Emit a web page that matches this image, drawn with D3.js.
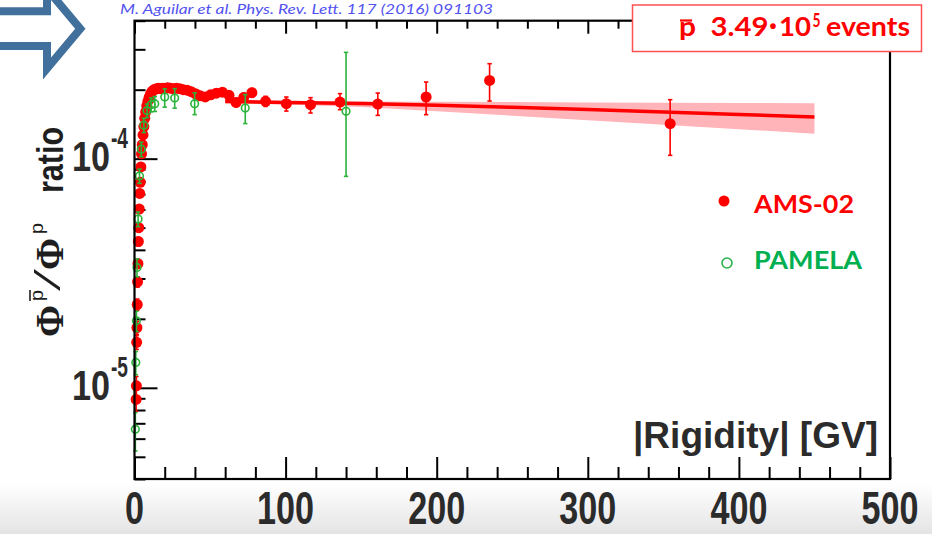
<!DOCTYPE html>
<html>
<head>
<meta charset="utf-8">
<script src="https://cdn.jsdelivr.net/npm/d3@7/dist/d3.min.js"></script>
<style>
  html, body { margin: 0; padding: 0; background: #fff; overflow: hidden; }
  svg { display: block; }
</style>
</head>
<body>
<svg id="chart" width="932" height="534"></svg>
<script>
// ---- AMS-02 antiproton-to-proton flux ratio (57 rigidity bins, GV) ----
const amsRigidity = [1.08, 1.24, 1.42, 1.61, 1.81, 2.03, 2.27, 2.53, 2.82, 3.13, 3.46, 3.83, 4.22, 4.65,
  5.12, 5.63, 6.18, 6.78, 7.42, 8.12, 8.87, 9.68, 10.55, 11.5, 12.5, 13.55, 14.7, 15.95, 17.3, 18.75,
  20.3, 21.95, 23.75, 25.7, 27.75, 29.95, 32.3, 34.8, 37.5, 40.4, 43.5, 46.8, 50.35, 54.15, 58.2, 62.55,
  67.25, 72.3, 77.7, 86.75, 100.5, 116.5, 136, 161, 193, 235, 354.5];
const amsRatio = [8.9e-6, 1.02e-5, 1.58e-5, 1.83e-5, 2.31e-5, 2.9e-5, 3.48e-5, 4.35e-5, 5.0e-5, 6.03e-5, 7.05e-5, 7.88e-5, 9.2e-5, 1.05e-4,
  1.15e-4, 1.27e-4, 1.38e-4, 1.5e-4, 1.6e-4, 1.7e-4, 1.78e-4, 1.85e-4, 1.91e-4, 1.96e-4, 1.99e-4, 2.01e-4, 2.02e-4, 2.03e-4, 2.02e-4, 2.03e-4,
  2.02e-4, 2.04e-4, 2.03e-4, 2.02e-4, 2.03e-4, 2.02e-4, 2.0e-4, 1.99e-4, 1.96e-4, 1.92e-4, 1.88e-4, 1.86e-4, 1.9e-4, 1.93e-4, 1.95e-4, 1.89e-4,
  1.76e-4, 1.85e-4, 1.94e-4, 1.78e-4, 1.738e-4, 1.72e-4, 1.766e-4, 1.73e-4, 1.858e-4, 2.195e-4, 1.421e-4];
const amsErrUp = [1.0e-6, 1.0e-6, 1.1e-6, 1.2e-6, 1.3e-6, 1.5e-6, 1.6e-6, 1.8e-6, 2.0e-6, 2.2e-6, 2.4e-6, 2.6e-6, 2.8e-6, 3.0e-6,
  3.2e-6, 3.4e-6, 3.6e-6, 3.8e-6, 4.0e-6, 4.0e-6, 4.0e-6, 4.0e-6, 4.0e-6, 4.0e-6, 4.0e-6, 4.0e-6, 4.0e-6, 4.0e-6, 4.0e-6, 4.0e-6,
  4.0e-6, 4.0e-6, 4.0e-6, 4.0e-6, 4.2e-6, 4.4e-6, 4.6e-6, 4.8e-6, 5.0e-6, 5.2e-6, 5.5e-6, 5.8e-6, 6.0e-6, 6.3e-6, 6.6e-6, 7.0e-6,
  7.5e-6, 8.0e-6, 8.5e-6, 9.0e-6, 1.2e-5, 1.26e-5, 1.56e-5, 2.03e-5, 3.02e-5, 4.02e-5, 3.88e-5];
const amsErrDown = [1.0e-6, 1.0e-6, 1.1e-6, 1.2e-6, 1.3e-6, 1.5e-6, 1.6e-6, 1.8e-6, 2.0e-6, 2.2e-6, 2.4e-6, 2.6e-6, 2.8e-6, 3.0e-6,
  3.2e-6, 3.4e-6, 3.6e-6, 3.8e-6, 4.0e-6, 4.0e-6, 4.0e-6, 4.0e-6, 4.0e-6, 4.0e-6, 4.0e-6, 4.0e-6, 4.0e-6, 4.0e-6, 4.0e-6, 4.0e-6,
  4.0e-6, 4.0e-6, 4.0e-6, 4.0e-6, 4.2e-6, 4.4e-6, 4.6e-6, 4.8e-6, 5.0e-6, 5.2e-6, 5.5e-6, 5.8e-6, 6.0e-6, 6.3e-6, 6.6e-6, 7.0e-6,
  7.5e-6, 8.0e-6, 8.5e-6, 9.0e-6, 1.25e-5, 1.38e-5, 1.3e-5, 1.85e-5, 3.02e-5, 4.11e-5, 3.87e-5];

// ---- PAMELA ratio ----
const pamRigidity = [0.55, 0.85, 1.25, 1.65, 2.4, 3.3, 4.5, 6.2, 8.3, 11.0, 13.4, 20.0, 26.6, 39.8, 73.3, 140];
const pamRatio = [6.6e-6, 1.29e-5, 1.96e-5, 3.35e-5, 5.45e-5, 8.4e-5, 1.1e-4, 1.4e-4, 1.62e-4, 1.72e-4, 1.737e-4, 1.858e-4, 1.84e-4, 1.737e-4, 1.663e-4, 1.61e-4];
const pamErrUp = [1.2e-6, 1.5e-6, 2.0e-6, 3.0e-6, 4.0e-6, 6.0e-6, 8.0e-6, 1.0e-5, 1.1e-5, 1.2e-5, 1.3e-5, 1.6e-5, 1.8e-5, 2.0e-5, 2.4e-5, 1.30e-4];
const pamErrDown = [1.3e-6, 1.5e-6, 2.0e-6, 3.0e-6, 4.0e-6, 6.0e-6, 8.0e-6, 1.0e-5, 1.1e-5, 1.2e-5, 1.3e-5, 1.8e-5, 1.8e-5, 1.81e-5, 2.4e-5, 7.73e-5];

// ---- fit above 60 GV with its uncertainty band ----
const fitRigidity = [60, 100, 150, 200, 250, 300, 350, 400, 450];
const fitRatio = [1.775e-4, 1.76e-4, 1.74e-4, 1.71e-4, 1.675e-4, 1.64e-4, 1.60e-4, 1.56e-4, 1.52e-4];
const fitLow  = [1.745e-4, 1.725e-4, 1.68e-4, 1.61e-4, 1.54e-4, 1.47e-4, 1.405e-4, 1.345e-4, 1.286e-4];
const fitHigh = [1.81e-4, 1.79e-4, 1.775e-4, 1.77e-4, 1.765e-4, 1.76e-4, 1.755e-4, 1.75e-4, 1.747e-4];

// ---- axes ----
const xTicks = [0, 100, 200, 300, 400, 500];
const xTickLabels = ["0", "100", "200", "300", "400", "500"];
const yTicks = [1e-5, 1e-4];
const yTickExponents = ["-5", "-4"];

const RED = "#ff0000";
const GREEN = "#2bb33a";
const INK = "#2b2b2b";

const svg = d3.select("#chart");
const W = 932, H = 534;
const frame = { left: 134.5, right: 890, top: 20.7, bottom: 479 };

const x = d3.scaleLinear().domain([0, 500]).range([frame.left, frame.right]);
const y = d3.scaleLog().domain([4e-6, 4e-4]).range([frame.bottom, frame.top]);

// soft grey floor behind the axis numbers
const defs = svg.append("defs");
const grad = defs.append("linearGradient").attr("id", "floor").attr("x1", 0).attr("y1", 0).attr("x2", 0).attr("y2", 1);
grad.append("stop").attr("offset", "0%").attr("stop-color", "#ffffff");
grad.append("stop").attr("offset", "100%").attr("stop-color", "#e4e4e4");
svg.append("rect").attr("x", 0).attr("y", 484).attr("width", W).attr("height", H - 484).attr("fill", "url(#floor)");

// ---- minor tick values ----
const xMinor = d3.range(0, 501, 20).filter(v => v % 100 !== 0);
const yMinor = [];
[1e-6, 1e-5, 1e-4].forEach(dec => { for (let k = 2; k <= 9; k++) { const v = k * dec; if (v >= 4e-6 && v <= 4e-4) yMinor.push(v); } });

function tickLayer(axis) {
  const g = svg.append("g").call(axis);
  g.select(".domain").remove();
  g.selectAll("line").attr("stroke", "#000").attr("stroke-width", 2);
  g.selectAll("text").remove();
  return g;
}
tickLayer(d3.axisBottom(x).tickValues(xTicks).tickSize(-22)).attr("transform", `translate(0,${frame.bottom})`);
tickLayer(d3.axisBottom(x).tickValues(xMinor).tickSize(-12)).attr("transform", `translate(0,${frame.bottom})`);
tickLayer(d3.axisTop(x).tickValues(xTicks).tickSize(-13)).attr("transform", `translate(0,${frame.top})`);
tickLayer(d3.axisTop(x).tickValues(xMinor).tickSize(-8)).attr("transform", `translate(0,${frame.top})`);
tickLayer(d3.axisLeft(y).tickValues(yTicks).tickSize(-23)).attr("transform", `translate(${frame.left},0)`);
tickLayer(d3.axisLeft(y).tickValues(yMinor).tickSize(-11)).attr("transform", `translate(${frame.left},0)`);

// ---- fit band and line ----
const fitRows = fitRigidity.map((r, i) => ({ r, v: fitRatio[i], lo: fitLow[i], hi: fitHigh[i] }));
svg.append("path").datum(fitRows)
  .attr("d", d3.area().x(d => x(d.r)).y0(d => y(d.lo)).y1(d => y(d.hi)))
  .attr("fill", "#ffb4ba");
svg.append("path").datum(fitRows)
  .attr("d", d3.line().x(d => x(d.r)).y(d => y(d.v)))
  .attr("fill", "none").attr("stroke", RED).attr("stroke-width", 3.5);

// ---- error bars ----
function errorBars(rs, vs, up, down, color, cap) {
  const g = svg.append("g").attr("stroke", color).attr("stroke-width", 1.6);
  rs.forEach((r, i) => {
    const cx = x(r), y1 = y(vs[i] + up[i]), y0 = y(vs[i] - down[i]);
    g.append("line").attr("x1", cx).attr("x2", cx).attr("y1", y1).attr("y2", y0);
    g.append("line").attr("x1", cx - cap).attr("x2", cx + cap).attr("y1", y1).attr("y2", y1);
    g.append("line").attr("x1", cx - cap).attr("x2", cx + cap).attr("y1", y0).attr("y2", y0);
  });
}

// AMS-02
errorBars(amsRigidity, amsRatio, amsErrUp, amsErrDown, RED, 2.2);
svg.append("g").selectAll("circle").data(amsRigidity).join("circle")
  .attr("cx", d => x(d)).attr("cy", (d, i) => y(amsRatio[i])).attr("r", 5.5).attr("fill", RED);

// PAMELA
errorBars(pamRigidity, pamRatio, pamErrUp, pamErrDown, GREEN, 2.2);
svg.append("g").selectAll("circle").data(pamRigidity).join("circle")
  .attr("cx", d => x(d)).attr("cy", (d, i) => y(pamRatio[i])).attr("r", 3.8)
  .attr("fill", "none").attr("stroke", GREEN).attr("stroke-width", 1.6);

// ---- frame (left, bottom, top, right) ----
svg.append("rect").attr("x", frame.left).attr("y", frame.top)
  .attr("width", frame.right - frame.left).attr("height", frame.bottom - frame.top)
  .attr("fill", "none").attr("stroke", "#000").attr("stroke-width", 2.2);

// ---- tick labels ----
const numFont = "'Liberation Sans', Arial, sans-serif";
svg.append("g").selectAll("text").data(xTicks).join("text")
  .attr("x", d => x(d)).attr("y", 523.5)
  .attr("text-anchor", "middle")
  .attr("font-family", numFont).attr("font-weight", "bold").attr("font-size", 46)
  .attr("fill", INK)
  .attr("textLength", (d, i) => 19 * xTickLabels[i].length).attr("lengthAdjust", "spacingAndGlyphs")
  .text((d, i) => xTickLabels[i]);

const yLab = svg.append("g").attr("font-family", numFont).attr("font-weight", "bold").attr("fill", INK);
yTicks.forEach((v, i) => {
  yLab.append("text").attr("x", 110).attr("y", y(v) + 12).attr("text-anchor", "end")
    .attr("font-size", 42).attr("textLength", 38).attr("lengthAdjust", "spacingAndGlyphs").text("10");
  yLab.append("text").attr("x", 111).attr("y", y(v) - 11)
    .attr("font-size", 30).attr("textLength", 17).attr("lengthAdjust", "spacingAndGlyphs").text(yTickExponents[i]);
});

// ---- x axis title ----
svg.append("text").attr("x", 878).attr("y", 448).attr("text-anchor", "end")
  .attr("font-family", numFont).attr("font-weight", "bold").attr("font-size", 36).attr("fill", INK)
  .attr("textLength", 245).attr("lengthAdjust", "spacingAndGlyphs")
  .text("|Rigidity| [GV]");

// ---- y axis title: Φ^p̄ / Φ^p ratio (drawn bottom to top) ----
const serif = "'Liberation Serif', 'Times New Roman', serif";
function vtext(px, py, txt, font, size, weight, len) {
  const t = svg.append("text").attr("transform", `translate(${px},${py}) rotate(-90)`)
    .attr("font-family", font).attr("font-size", size).attr("font-weight", weight).attr("fill", "#1e1e1e")
    .text(txt);
  if (len) t.attr("textLength", len).attr("lengthAdjust", "spacingAndGlyphs");
  return t;
}
vtext(63, 337, "Φ", serif, 40, "bold", 32);
vtext(43, 301, "p", numFont, 19, "normal", 11);
svg.append("line").attr("x1", 30).attr("x2", 30).attr("y1", 301).attr("y2", 290).attr("stroke", "#1e1e1e").attr("stroke-width", 1.6);
vtext(60, 291, "/", serif, 40, "normal", 22);
vtext(63, 270, "Φ", serif, 40, "bold", 32);
vtext(43, 234, "p", numFont, 19, "normal", 11);
vtext(63, 193, "ratio", numFont, 36, "bold", 66);

// ---- event count box ----
const boxFont = "Lato, 'Open Sans', sans-serif";
svg.append("rect").attr("x", 632.5).attr("y", 5).attr("width", 289).attr("height", 46.5)
  .attr("fill", "#fff").attr("stroke", "#ff5050").attr("stroke-width", 1.5);
const box = svg.append("g").attr("font-family", boxFont).attr("font-weight", "bold").attr("fill", RED);
box.append("text").attr("x", 679).attr("y", 35.5).attr("font-size", 27).attr("textLength", 17).attr("lengthAdjust", "spacingAndGlyphs").text("p");
svg.append("line").attr("x1", 680).attr("x2", 692).attr("y1", 20.5).attr("y2", 20.5).attr("stroke", RED).attr("stroke-width", 2.2);
box.append("text").attr("x", 710.5).attr("y", 35.5).attr("font-size", 27).attr("textLength", 58).attr("lengthAdjust", "spacingAndGlyphs").text("3.49");
box.append("text").attr("x", 773).attr("y", 33).attr("text-anchor", "middle").attr("font-family", numFont).attr("font-size", 20).text("•");
box.append("text").attr("x", 779).attr("y", 35.5).attr("font-size", 27).attr("textLength", 32).attr("lengthAdjust", "spacingAndGlyphs").text("10");
box.append("text").attr("x", 812.5).attr("y", 26.5).attr("font-size", 18).attr("textLength", 8).attr("lengthAdjust", "spacingAndGlyphs").text("5");
box.append("text").attr("x", 826).attr("y", 35.5).attr("font-size", 27).attr("textLength", 84).attr("lengthAdjust", "spacingAndGlyphs").text("events");

// ---- legend ----
svg.append("circle").attr("cx", 724).attr("cy", 201).attr("r", 5.5).attr("fill", RED);
svg.append("text").attr("x", 754).attr("y", 213.3).attr("font-family", boxFont).attr("font-weight", "bold")
  .attr("font-size", 25.5).attr("fill", RED).attr("textLength", 100).attr("lengthAdjust", "spacingAndGlyphs").text("AMS-02");
svg.append("circle").attr("cx", 727).attr("cy", 263).attr("r", 5).attr("fill", "none").attr("stroke", "#27b24a").attr("stroke-width", 1.6);
svg.append("text").attr("x", 754).attr("y", 269).attr("font-family", boxFont).attr("font-weight", "bold")
  .attr("font-size", 25.5).attr("fill", "#00b050").attr("textLength", 108).attr("lengthAdjust", "spacingAndGlyphs").text("PAMELA");

// ---- reference line and pointer arrow ----
svg.append("text").attr("x", 120).attr("y", 13.5).attr("font-family", boxFont).attr("font-style", "italic")
  .attr("font-size", 14).attr("fill", "#5252f0").attr("textLength", 373).attr("lengthAdjust", "spacingAndGlyphs")
  .text("M. Aguilar et al. Phys. Rev. Lett. 117 (2016) 091103");

svg.append("path")
  .attr("d", "M-10,11.3 L47,11.3 L47,-11 L80.3,28.7 L47,68.5 L47,46 L-10,46 Z")
  .attr("fill", "#fff").attr("stroke", "#41709c").attr("stroke-width", 8).attr("stroke-linejoin", "miter");
</script>
</body>
</html>
